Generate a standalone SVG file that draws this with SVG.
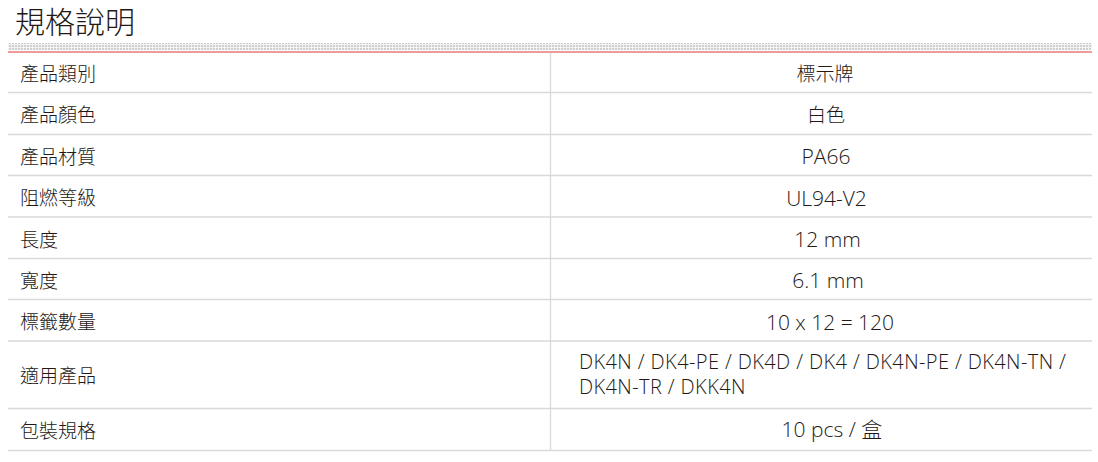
<svg xmlns="http://www.w3.org/2000/svg" width="1098" height="462" viewBox="0 0 1098 462">
<style>
.t{font-family:"Open Sans","Noto Sans CJK TC",sans-serif;fill:#231815;font-weight:300;}
.lbl{font-size:19px;}
.val{font-size:21px;text-anchor:middle;}
.cjk{font-size:19px;}
.valL{font-size:20px;letter-spacing:0.4px;}
.row{stroke:#d9d9d9;stroke-width:1.3;}
</style>
<defs>
<pattern id="dots" width="3" height="3" patternUnits="userSpaceOnUse">
<rect width="3" height="3" fill="#f4f4f4"/>
<rect width="2" height="2" fill="#cfcfcf"/>
</pattern>
</defs>
<rect width="1098" height="462" fill="#ffffff"/>
<text class="t" x="15" y="33" font-size="30">規格說明</text>
<rect x="8" y="43" width="1084" height="7" fill="url(#dots)"/>
<line x1="8" y1="52" x2="1092" y2="52" stroke="#ef9a9a" stroke-width="2"/>
<g id="grid">
<line class="row" x1="8" y1="92.5" x2="1092" y2="92.5"/>
<line class="row" x1="8" y1="134.5" x2="1092" y2="134.5"/>
<line class="row" x1="8" y1="175.5" x2="1092" y2="175.5"/>
<line class="row" x1="8" y1="217" x2="1092" y2="217"/>
<line class="row" x1="8" y1="258.5" x2="1092" y2="258.5"/>
<line class="row" x1="8" y1="299.5" x2="1092" y2="299.5"/>
<line class="row" x1="8" y1="341" x2="1092" y2="341"/>
<line class="row" x1="8" y1="408.5" x2="1092" y2="408.5"/>
<line class="row" x1="8" y1="450.5" x2="1092" y2="450.5"/>
<line class="row" x1="550.5" y1="53" x2="550.5" y2="450"/>
</g>
<g id="r1"><text class="t lbl" x="20" y="81">產品類別</text><text class="t val cjk" x="825" y="81">標示牌</text></g>
<g id="r2"><text class="t lbl" x="20" y="122">產品顏色</text><text class="t val cjk" x="826" y="122">白色</text></g>
<g id="r3"><text class="t lbl" x="20" y="163.5">產品材質</text><text class="t val" x="826" y="164">PA66</text></g>
<g id="r4"><text class="t lbl" x="20" y="205">阻燃等級</text><text class="t val" x="826.5" y="205.5">UL94-V2</text></g>
<g id="r5"><text class="t lbl" x="20" y="246.5">長度</text><text class="t val" x="827.5" y="247">12 mm</text></g>
<g id="r6"><text class="t lbl" x="20" y="287.5">寬度</text><text class="t val" x="828" y="288">6.1 mm</text></g>
<g id="r7"><text class="t lbl" x="20" y="329">標籤數量</text><text class="t val" x="830" y="329.5">10 x 12 = 120</text></g>
<g id="r8"><text class="t lbl" x="20" y="383">適用產品</text>
<text class="t valL"><tspan x="579" y="368.5">DK4N / DK4-PE / DK4D / DK4 / DK4N-PE / DK4N-TN /</tspan><tspan x="579" y="394">DK4N-TR / DKK4N</tspan></text></g>
<g id="r9"><text class="t lbl" x="20" y="437.5">包裝規格</text><text class="t val" x="832" y="437">10 pcs / 盒</text></g>
</svg>
